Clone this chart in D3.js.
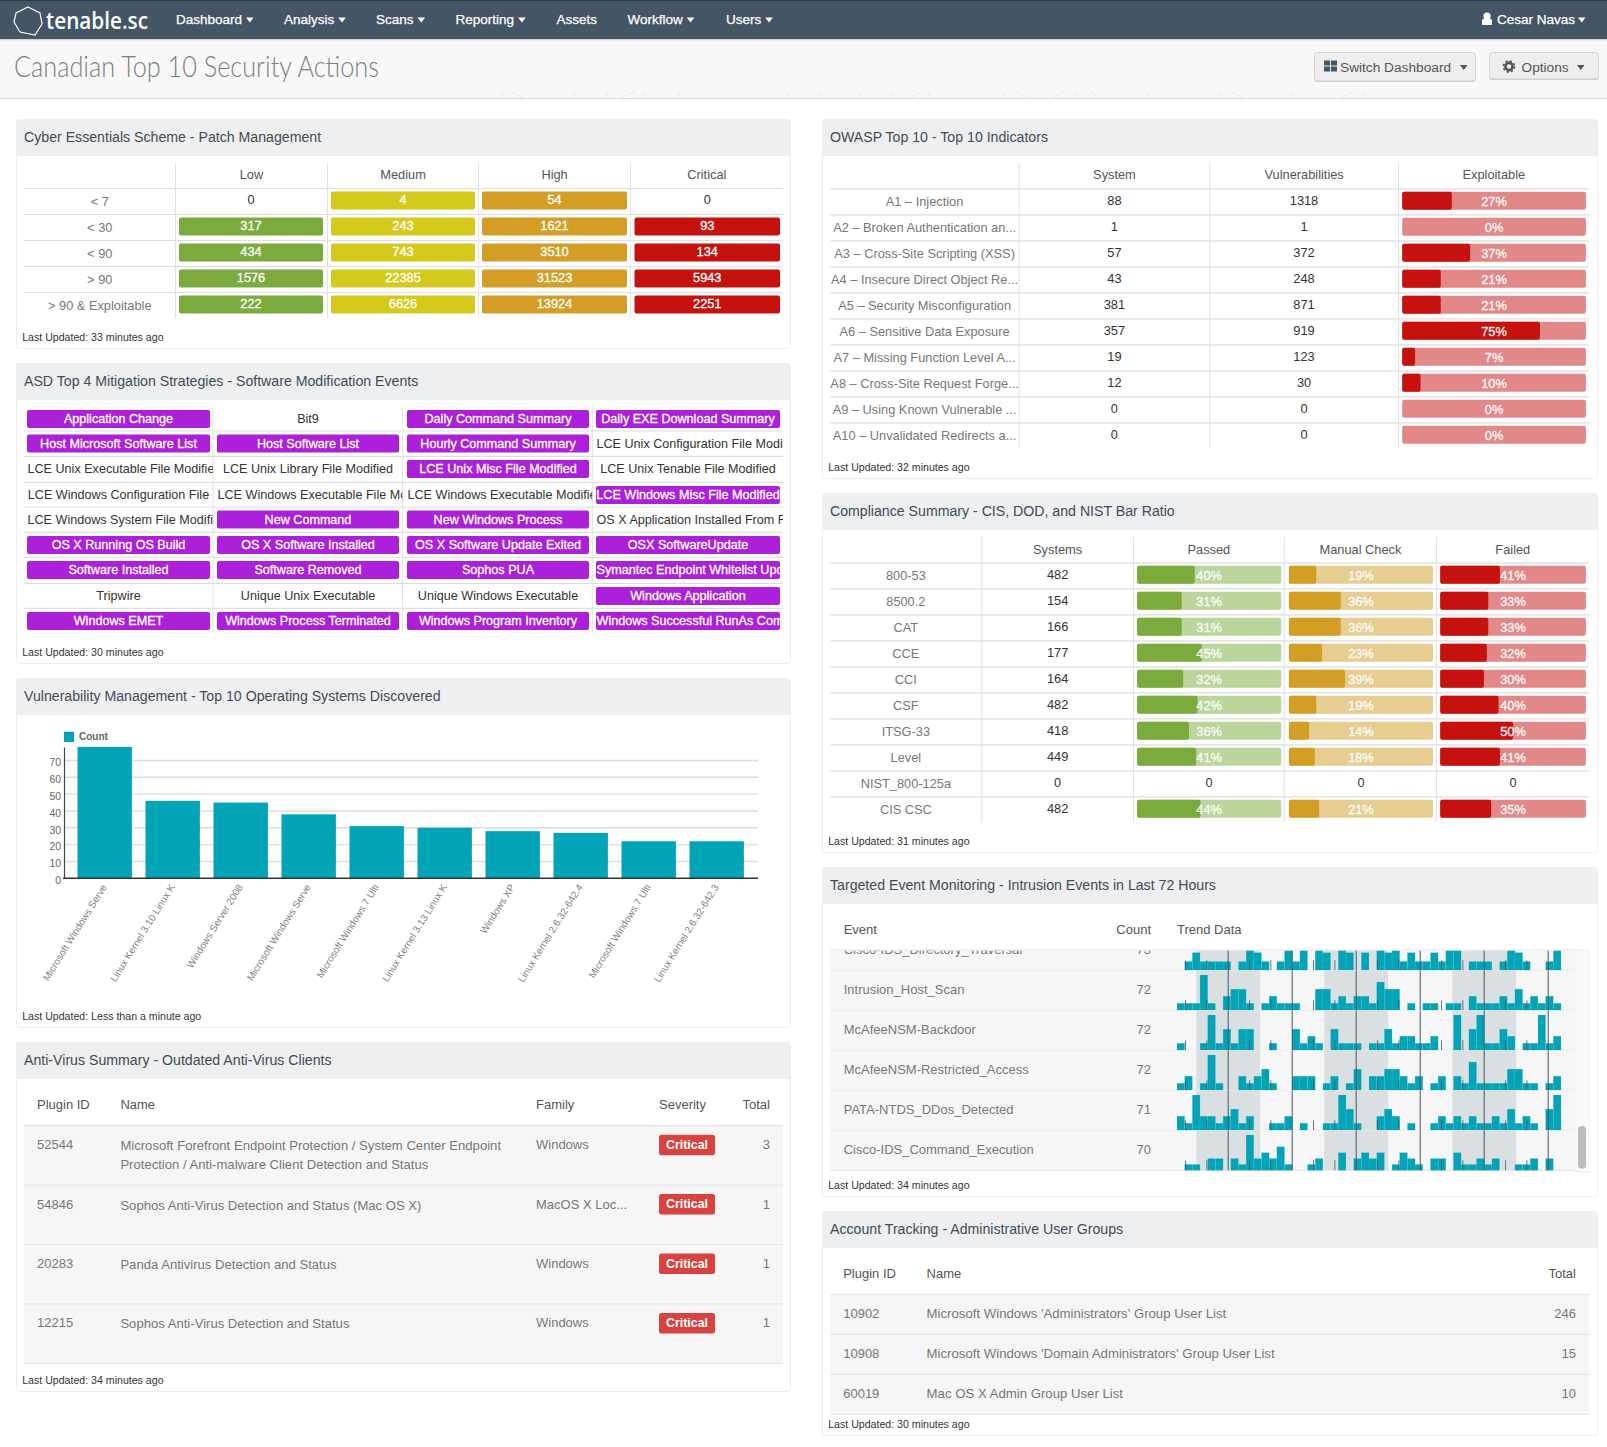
<!DOCTYPE html>
<html>
<head>
<meta charset="utf-8">
<title>Canadian Top 10 Security Actions</title>
<script src="https://cdnjs.cloudflare.com/ajax/libs/d3/7.8.5/d3.min.js"></script>
<style>
  html, body { margin: 0; padding: 0; background: #fff; }
  svg { display: block; }
  text { font-family: "Liberation Sans", Arial, sans-serif; }
</style>
</head>
<body>
<div id="page"></div>
<script>
// ---- chart values ----
var navItems = ["Dashboard", "Analysis", "Scans", "Reporting", "Assets", "Workflow", "Users"];
var navHasCaret = [1, 1, 1, 1, 0, 1, 1];

// Cyber Essentials
var patchRows = ["< 7", "< 30", "< 90", "> 90", "> 90 & Exploitable"];
var patchCols = ["Low", "Medium", "High", "Critical"];
var patchLow = [0, 317, 434, 1576, 222];
var patchMedium = [4, 243, 743, 22385, 6626];
var patchHigh = [54, 1621, 3510, 31523, 13924];
var patchCritical = [0, 93, 134, 5943, 2251];

// ASD grid, read row by row
var asdNames = [
  "Application Change", "Bit9", "Daily Command Summary", "Daily EXE Download Summary",
  "Host Microsoft Software List", "Host Software List", "Hourly Command Summary", "LCE Unix Configuration File Modi",
  "LCE Unix Executable File Modifie", "LCE Unix Library File Modified", "LCE Unix Misc File Modified", "LCE Unix Tenable File Modified",
  "LCE Windows Configuration File", "LCE Windows Executable File Mo", "LCE Windows Executable Modifie", "LCE Windows Misc File Modified",
  "LCE Windows System File Modifie", "New Command", "New Windows Process", "OS X Application Installed From F",
  "OS X Running OS Build", "OS X Software Installed", "OS X Software Update Exited", "OSX SoftwareUpdate",
  "Software Installed", "Software Removed", "Sophos PUA", "Symantec Endpoint Whitelist Upd",
  "Tripwire", "Unique Unix Executable", "Unique Windows Executable", "Windows Application",
  "Windows EMET", "Windows Process Terminated", "Windows Program Inventory", "Windows Successful RunAs Com"
];
var asdFlagged = [
  1, 0, 1, 1,
  1, 1, 1, 0,
  0, 0, 1, 0,
  0, 0, 0, 1,
  0, 1, 1, 0,
  1, 1, 1, 1,
  1, 1, 1, 1,
  0, 0, 0, 1,
  1, 1, 1, 1
];

// Top 10 operating systems
var osLabels = ["Microsoft Windows Serve", "Linux Kernel 3.10 Linux K", "Windows Server 2008", "Microsoft Windows Serve",
  "Microsoft Windows 7 Ulti", "Linux Kernel 3.13 Linux K", "Windows XP", "Linux Kernel 2.6.32-642.4",
  "Microsoft Windows 7 Ulti", "Linux Kernel 2.6.32-642.3"];
var osCounts = [78, 46, 45, 38, 31, 30, 28, 27, 22, 22];
var osTicks = [0, 10, 20, 30, 40, 50, 60, 70];

// Anti-virus
var avHeaders = ["Plugin ID", "Name", "Family", "Severity", "Total"];
var avIds = ["52544", "54846", "20283", "12215"];
var avNames = [
  ["Microsoft Forefront Endpoint Protection / System Center Endpoint", "Protection / Anti-malware Client Detection and Status"],
  ["Sophos Anti-Virus Detection and Status (Mac OS X)"],
  ["Panda Antivirus Detection and Status"],
  ["Sophos Anti-Virus Detection and Status"]
];
var avFamilies = ["Windows", "MacOS X Loc...", "Windows", "Windows"];
var avSeverity = ["Critical", "Critical", "Critical", "Critical"];
var avTotals = [3, 1, 1, 1];

// OWASP
var owaspRows = ["A1 \u2013 Injection", "A2 \u2013 Broken Authentication an...", "A3 \u2013 Cross-Site Scripting (XSS)",
  "A4 \u2013 Insecure Direct Object Re...", "A5 \u2013 Security Misconfiguration", "A6 \u2013 Sensitive Data Exposure",
  "A7 \u2013 Missing Function Level A...", "A8 \u2013 Cross-Site Request Forge...", "A9 \u2013 Using Known Vulnerable ...",
  "A10 \u2013 Unvalidated Redirects a..."];
var owaspCols = ["System", "Vulnerabilities", "Exploitable"];
var owaspSystems = [88, 1, 57, 43, 381, 357, 19, 12, 0, 0];
var owaspVulns = [1318, 1, 372, 248, 871, 919, 123, 30, 0, 0];
var owaspExploitable = [27, 0, 37, 21, 21, 75, 7, 10, 0, 0];

// Compliance
var compRows = ["800-53", "8500.2", "CAT", "CCE", "CCI", "CSF", "ITSG-33", "Level", "NIST_800-125a", "CIS CSC"];
var compCols = ["Systems", "Passed", "Manual Check", "Failed"];
var compSystems = [482, 154, 166, 177, 164, 482, 418, 449, 0, 482];
var compPassed = [40, 31, 31, 45, 32, 42, 36, 41, 0, 44];
var compManual = [19, 36, 36, 23, 39, 19, 14, 18, 0, 21];
var compFailed = [41, 33, 33, 32, 30, 40, 50, 41, 0, 35];

// Intrusion events, 50 bins per row over 72 hours
var eventNames = ["Cisco-IDS_Directory_Traversal", "Intrusion_Host_Scan", "McAfeeNSM-Backdoor", "McAfeeNSM-Restricted_Access",
  "PATA-NTDS_DDos_Detected", "Cisco-IDS_Command_Execution"];
var eventCounts = [73, 72, 72, 72, 71, 70];
var trendDirectory = [0,1,2,1,1,1,1,0,1,4,2,1,0,1,4,1,4,0,4,2,0,4,2,0,2,0,4,2,4,1,2,1,1,2,1,4,4,0,1,1,1,0,1,4,2,1,0,0,1,4];
var trendHostScan = [1,1,1,5,1,0,2,3,3,1,0,1,2,1,1,1,0,0,3,3,1,2,1,2,2,1,4,3,3,0,1,0,1,1,0,1,1,0,2,1,1,1,2,1,3,1,2,1,2,1];
var trendBackdoor = [1,0,0,1,5,1,3,1,3,3,0,0,1,0,0,3,1,2,1,0,3,1,1,1,0,1,1,3,1,2,2,1,1,2,0,0,5,0,3,5,1,1,3,2,0,1,1,5,1,2];
var trendRestricted = [1,2,0,1,5,1,0,0,2,1,2,3,1,0,0,2,2,2,0,1,2,0,1,3,0,2,2,3,3,2,1,2,0,1,2,0,2,1,4,1,1,1,1,3,3,1,1,0,1,2];
var trendDdos = [2,1,5,2,2,1,2,3,1,2,0,0,1,1,2,0,1,0,0,1,1,5,3,1,0,0,2,3,2,0,1,0,0,1,2,1,2,1,2,1,1,2,1,3,1,2,1,0,3,5];
var trendCommand = [0,1,1,0,2,2,0,2,1,6,2,3,2,4,1,0,0,1,2,0,0,3,0,2,3,2,3,0,1,3,2,1,0,2,2,0,3,1,1,2,1,2,0,0,1,1,2,0,2,0];
var nightBands = [[3.6, 15.6], [27.6, 39.6], [51.6, 63.6]];

// Account tracking
var acctHeaders = ["Plugin ID", "Name", "Total"];
var acctIds = ["10902", "10908", "60019"];
var acctNames = ["Microsoft Windows 'Administrators' Group User List", "Microsoft Windows 'Domain Administrators' Group User List", "Mac OS X Admin Group User List"];
var acctTotals = [246, 15, 10];

// ---- colours ----
var cGreen = "#7aab3c", cYellow = "#d5ca1c", cOrange = "#d39e26", cRed = "#c6120f", cPurple = "#ab20d8", cTeal = "#00a4b6";
var cGreenSoft = "#bcd59c", cOrangeSoft = "#e8cd91", cRedSoft = "#e28888";
var cLine = "#e2e2e2", cHead = "#555", cLabel = "#777", cNum = "#333";
var tableSize = 12.8;

var svg = d3.select("#page").append("svg")
  .attr("width", 1607)
  .attr("height", 1447)
  .attr("viewBox", "0 0 1607 1447");

// small text helper
function label(g, x, y, str, size, color, anchor) {
  return g.append("text")
    .attr("x", x)
    .attr("y", y)
    .attr("dy", "0.35em")
    .attr("font-size", size)
    .attr("fill", color)
    .attr("text-anchor", anchor || "start")
    .text(str);
}

function caret(g, x, y, w, color) {
  g.append("path")
    .attr("d", "M" + x + " " + y + "h" + w + "l" + (-w / 2) + " " + (w * 0.65) + "z")
    .attr("fill", color);
}

// ---- top bar ----
var nav = svg.append("g");
nav.append("rect").attr("width", 1607).attr("height", 40).attr("fill", "#445665");
nav.append("rect").attr("width", 1607).attr("height", 1).attr("fill", "#2f3d49");
nav.append("rect").attr("y", 39).attr("width", 1607).attr("height", 1.5).attr("fill", "#d0d4d8");
nav.append("path")
  .attr("d", "M28 7L40 13L42 24L35 35L20 32L14 22L16 13Z")
  .attr("fill", "none").attr("stroke", "#fff").attr("stroke-width", 1.2);
label(nav, 46, 20.5, "tenable.sc", 23.5, "#fff").attr("font-weight", 600)
  .style("font-family", "'Open Sans'").attr("textLength", 102).attr("lengthAdjust", "spacingAndGlyphs");

var navX = [176, 284, 376, 455.6, 556.6, 627.5, 726];
navItems.forEach(function(item, i) {
  var t = label(nav, navX[i], 19.5, item, 13.5, "#fff").attr("stroke", "#fff").attr("stroke-width", 0.25);
  if (navHasCaret[i]) {
    caret(nav, navX[i] + t.node().getComputedTextLength() + 4, 17.5, 7.5, "#fff");
  }
});
// user menu
nav.append("circle").attr("cx", 1487).attr("cy", 16).attr("r", 3.6).attr("fill", "#fff");
nav.append("path").attr("d", "M1482 25v-4q0-2.5 2.5-2.5h5q2.5 0 2.5 2.5v4z").attr("fill", "#fff");
label(nav, 1497, 19.5, "Cesar Navas", 13.5, "#fff").attr("stroke", "#fff").attr("stroke-width", 0.25);
caret(nav, 1578, 17.5, 7.5, "#fff");

// ---- sub header ----
var sub = svg.append("g");
sub.append("rect").attr("y", 40.5).attr("width", 1607).attr("height", 58).attr("fill", "#f8f8f8");
sub.append("rect").attr("y", 98).attr("width", 1607).attr("height", 1).attr("fill", "#dcdcdc");
// faint pattern that peeks out of the header bottom
[[502, 502], [574, 574], [607, 607], [645, 645], [679, 679], [788, 788], [821, 821], [860, 860], [893, 893],
 [929, 929], [1004, 1004], [1075, 1075], [1148, 1148], [1219, 1219], [1291, 1291], [1363, 1363]].forEach(function(p) {
  sub.append("line").attr("x1", p[0]).attr("x2", p[1]).attr("y1", 92).attr("y2", 98).attr("stroke", "#e9e9e9");
});
[[511, 524, 92, 98], [621, 635, 98, 92], [910, 922, 98, 92], [1016, 1029, 92, 98], [1052, 1063, 98, 92],
 [1090, 1101, 92, 98], [1232, 1243, 92, 98], [1340, 1352, 98, 92]].forEach(function(p) {
  sub.append("line").attr("x1", p[0]).attr("x2", p[1]).attr("y1", p[2]).attr("y2", p[3]).attr("stroke", "#e9e9e9");
});
label(sub, 14, 66.5, "Canadian Top 10 Security Actions", 29, "#7b7f83")
  .style("font-family", "Lato").attr("font-weight", 300)
  .attr("textLength", 365).attr("lengthAdjust", "spacingAndGlyphs");

function button(x, w, h, text, textX, caretX) {
  sub.append("rect").attr("x", x + 0.5).attr("y", 52.5).attr("width", w).attr("height", h).attr("rx", 3)
    .attr("fill", "#eeeeee").attr("stroke", "#d4d4d4");
  sub.append("rect").attr("x", x + 1).attr("y", 52 + h - 0.5).attr("width", w - 1).attr("height", 1.5).attr("fill", "#cfcfcf");
  label(sub, textX, 67, text, 13.7, "#555");
  caret(sub, caretX, 65, 7.5, "#555");
}
button(1314, 161, 29, "Switch Dashboard", 1340, 1460);
button(1489, 109, 27, "Options", 1521.5, 1577);
// grid icon
d3.range(4).forEach(function(i) {
  sub.append("rect").attr("x", 1324 + (i % 2) * 7).attr("y", 60.5 + Math.floor(i / 2) * 6)
    .attr("width", 6).attr("height", 5).attr("fill", "#445665");
});
// gear icon
sub.append("circle").attr("cx", 1509).attr("cy", 66.5).attr("r", 3.6)
  .attr("fill", "none").attr("stroke", "#555").attr("stroke-width", 2.6);
sub.append("circle").attr("cx", 1509).attr("cy", 66.5).attr("r", 5.6)
  .attr("fill", "none").attr("stroke", "#555").attr("stroke-width", 1.6).attr("stroke-dasharray", "2.2 2.2");

// ---- panel frame ----
function panel(x0, x1, top, headBottom, bottom, title, updated, updatedY) {
  var g = svg.append("g");
  g.append("rect").attr("x", x0 + 0.5).attr("y", top + 0.5).attr("width", x1 - x0).attr("height", bottom - top).attr("rx", 3)
    .attr("fill", "#fff").attr("stroke", "#eeeeee");
  g.append("path")
    .attr("d", "M" + x0 + " " + headBottom + "V" + (top + 3) + "q0 -3 3 -3H" + (x1 - 3) + "q3 0 3 3V" + headBottom + "z")
    .attr("fill", "#eeeff1");
  label(g, x0 + 8, (top + headBottom) / 2 - 0.5, title, 14.15, "#3f4c58");
  label(g, x0 + 6.2, updatedY, "Last Updated: " + updated, 10.6, "#333");
  return g;
}

// Bordered table with a header row. Returns the row scale.
function gridTable(g, rows, cols, edges, headTop, top, bottom) {
  var y = d3.scaleBand().domain(d3.range(rows.length)).range([top, bottom]);
  // horizontal rules
  g.selectAll(null).data(d3.range(rows.length)).enter().append("line")
    .attr("x1", edges[0]).attr("x2", edges[edges.length - 1])
    .attr("y1", function(d) { return y(d) + 0.5; }).attr("y2", function(d) { return y(d) + 0.5; })
    .attr("stroke", "#dedede").attr("stroke-width", 1.2);
  // vertical rules
  g.selectAll(null).data(edges.slice(1, -1)).enter().append("line")
    .attr("x1", function(d) { return d; }).attr("x2", function(d) { return d; })
    .attr("y1", headTop).attr("y2", bottom)
    .attr("stroke", cLine);
  // head
  cols.forEach(function(c, i) {
    label(g, (edges[i + 1] + edges[i + 2]) / 2, (headTop + top) / 2 - 0.5, c, tableSize, cHead, "middle");
  });
  // row names
  rows.forEach(function(r, i) {
    label(g, (edges[0] + edges[1]) / 2, y(i) + y.bandwidth() / 2 + 0.6, r, tableSize, cLabel, "middle");
  });
  return y;
}

// solid count cell (no bar when the value is 0)
function countCell(g, x0, x1, rowTop, val, color) {
  if (val > 0) {
    g.append("rect").attr("x", x0).attr("y", rowTop + 3.4).attr("width", x1 - x0).attr("height", 18).attr("rx", 2).attr("fill", color);
    label(g, (x0 + x1) / 2, rowTop + 12, val, tableSize, "#fff", "middle").attr("stroke", "#fff").attr("stroke-width", 0.3);
  } else {
    label(g, (x0 + x1) / 2, rowTop + 12, val, tableSize, cNum, "middle");
  }
}

// ratio cell: pale track, solid part sized with a linear scale
function ratioCell(g, x0, x1, rowTop, pct, color, soft) {
  var w = d3.scaleLinear().domain([0, 100]).range([x0, x1]);
  g.append("rect").attr("x", x0).attr("y", rowTop + 3.4).attr("width", x1 - x0).attr("height", 18).attr("rx", 2).attr("fill", soft);
  if (pct > 0) {
    g.append("rect").attr("x", x0).attr("y", rowTop + 3.4).attr("width", w(pct) - x0).attr("height", 18).attr("rx", 2).attr("fill", color);
  }
  label(g, (x0 + x1) / 2, rowTop + 13.2, pct + "%", tableSize, "#fff", "middle")
    .attr("stroke", "#fff").attr("stroke-width", 0.35).attr("opacity", 0.92);
}

// ---- Cyber Essentials ----
var p1 = panel(16, 790, 119, 156, 348, "Cyber Essentials Scheme - Patch Management", "33 minutes ago", 337);
var patchEdges = [24, 175.5, 327.5, 478.6, 630.6, 783];
var patchY = gridTable(p1, patchRows, patchCols, patchEdges, 163, 188, 318);
var patchBars = [[179, 323], [331, 475], [482, 627], [634.5, 780]];
[[patchLow, cGreen], [patchMedium, cYellow], [patchHigh, cOrange], [patchCritical, cRed]].forEach(function(s, c) {
  s[0].forEach(function(v, r) {
    countCell(p1, patchBars[c][0], patchBars[c][1], patchY(r), v, s[1]);
  });
});

// ---- ASD grid ----
var p2 = panel(16, 790, 363, 400, 663, "ASD Top 4 Mitigation Strategies - Software Modification Events", "30 minutes ago", 652.5);
var asdEdges = [24, 213, 402.5, 592.3, 783];
var asdPills = [[27, 210], [217, 399], [407, 589], [596, 780]];
var asdTops = [406.5, 431, 456.3, 482.3, 507, 532.3, 557.3, 583.3, 608.3, 632.7];
asdTops.slice(1, 9).forEach(function(y) {
  p2.append("line").attr("x1", 24).attr("x2", 783).attr("y1", y).attr("y2", y).attr("stroke", "#dedede").attr("stroke-width", 1.2);
});
asdEdges.slice(1, -1).forEach(function(e) {
  p2.append("line").attr("x1", e).attr("x2", e).attr("y1", 406.5).attr("y2", 632.7).attr("stroke", cLine);
});
var defs = svg.append("defs");
asdNames.forEach(function(name, i) {
  var col = i % 4, row = Math.floor(i / 4), top = asdTops[row], flag = asdFlagged[i];
  var px = asdPills[col];
  if (flag) {
    p2.append("rect").attr("x", px[0]).attr("y", top + 3.6).attr("width", px[1] - px[0]).attr("height", 18).attr("rx", 2).attr("fill", cPurple);
  }
  var clipRight = flag ? px[1] : asdEdges[col + 1];
  defs.append("clipPath").attr("id", "asd" + i).append("rect")
    .attr("x", px[0]).attr("y", top).attr("width", clipRight - px[0]).attr("height", 26);
  var t = label(p2, (px[0] + px[1]) / 2, top + 12.2, name, 12.6, flag ? "#fff" : "#333", "middle")
    .attr("clip-path", "url(#asd" + i + ")");
  if (flag) t.attr("stroke", "#fff").attr("stroke-width", 0.3);
  // long names do not centre: the cell cuts them off at its right edge
  if (t.node().getComputedTextLength() > px[1] - px[0]) {
    t.attr("text-anchor", "start").attr("x", px[0] + 0.5);
  }
});

// ---- Top 10 operating systems ----
var p3 = panel(16, 790, 678.5, 715, 1027, "Vulnerability Management - Top 10 Operating Systems Discovered", "Less than a minute ago", 1016.7);
var osX = d3.scaleBand().domain(d3.range(osCounts.length)).range([70.7, 750.7]).paddingInner(0.2).paddingOuter(0.1);
var osY = d3.scaleLinear().domain([0, 78]).range([878.3, 747]);
p3.append("rect").attr("x", 64).attr("y", 731.7).attr("width", 10).attr("height", 10.3).attr("fill", cTeal);
label(p3, 79, 736.8, "Count", 10, "#666").attr("font-weight", "bold");
// grid lines first, bars over them
p3.selectAll(null).data(osTicks.slice(1)).enter().append("line")
  .attr("x1", 64).attr("x2", 758)
  .attr("y1", function(d) { return osY(d); }).attr("y2", function(d) { return osY(d); })
  .attr("stroke", "#dcdcdc").attr("stroke-width", 1.4);
p3.selectAll(null).data(osCounts).enter().append("rect")
  .attr("x", function(d, i) { return osX(i); })
  .attr("y", function(d) { return osY(d); })
  .attr("width", osX.bandwidth())
  .attr("height", function(d) { return osY(0) - osY(d); })
  .attr("fill", cTeal);
var yAxis = p3.append("g").attr("transform", "translate(64,0)")
  .call(d3.axisLeft(osY).tickValues(osTicks).tickSize(0).tickPadding(3));
yAxis.select(".domain").attr("stroke", "#444").attr("stroke-width", 1.2);
yAxis.selectAll("text").attr("font-size", 10.4).attr("fill", "#666").attr("dy", "0.5em").style("font-family", "'Liberation Sans'");
p3.append("line").attr("x1", 63).attr("x2", 758).attr("y1", osY(0)).attr("y2", osY(0)).attr("stroke", "#333").attr("stroke-width", 1.6);
defs.append("clipPath").attr("id", "osClip").append("rect").attr("x", 20).attr("y", 884).attr("width", 740).attr("height", 120);
var osLabelG = p3.append("g").attr("clip-path", "url(#osClip)");
osLabelG.selectAll(null).data(osLabels).enter().append("text")
  .attr("transform", function(d, i) { return "translate(" + (osX(i) + osX.bandwidth() / 2 + 2.5) + ",887) rotate(-58)"; })
  .attr("text-anchor", "end")
  .attr("font-size", 9.9)
  .attr("fill", "#808080")
  .text(function(d) { return d; });

// ---- Anti-virus table ----
var p4 = panel(16, 790, 1042, 1079, 1391, "Anti-Virus Summary - Outdated Anti-Virus Clients", "34 minutes ago", 1380.3);
var avY = d3.scaleBand().domain(avIds).range([1125.7, 1363.3]);
var avHeadX = [37, 120.4, 536, 659];
avHeaders.forEach(function(h, i) {
  if (i < 4) label(p4, avHeadX[i], 1104.7, h, 13, cHead);
  else label(p4, 770, 1104.7, h, 13, cHead, "end");
});
avIds.forEach(function(id, i) {
  var top = avY(id), mid = top + 19;
  p4.append("rect").attr("x", 24).attr("y", top).attr("width", 759).attr("height", avY.bandwidth()).attr("fill", "#f6f6f6");
  p4.append("line").attr("x1", 24).attr("x2", 783).attr("y1", top).attr("y2", top).attr("stroke", "#e6e6e6").attr("stroke-width", 1.2);
  label(p4, 37, mid, id, 13, cLabel);
  avNames[i].forEach(function(line, j) {
    label(p4, 120.4, mid + 1 + j * 19, line, 13.1, cLabel);
  });
  label(p4, 536, mid, avFamilies[i], 13, cLabel);
  p4.append("rect").attr("x", 659).attr("y", mid - 10).attr("width", 56).attr("height", 20.5).attr("rx", 2.5).attr("fill", "#d9433f");
  label(p4, 687, mid, avSeverity[i], 12.4, "#fff", "middle").attr("font-weight", "bold");
  label(p4, 770, mid, avTotals[i], 13, cLabel, "end");
});
p4.append("line").attr("x1", 24).attr("x2", 783).attr("y1", 1363.3).attr("y2", 1363.3).attr("stroke", "#e6e6e6").attr("stroke-width", 1.2);

// ---- OWASP ----
var r1 = panel(822, 1597, 119, 156, 478, "OWASP Top 10 - Top 10 Indicators", "32 minutes ago", 467.2);
var owaspEdges = [830, 1019.2, 1209.7, 1398.6, 1589];
var owaspY = d3.scaleBand().domain(d3.range(owaspRows.length)).range([188.3, 448.3]);
d3.range(owaspRows.length).forEach(function(r) {
  r1.append("line").attr("x1", 830).attr("x2", 1589).attr("y1", owaspY(r) + 0.5).attr("y2", owaspY(r) + 0.5).attr("stroke", "#dedede").attr("stroke-width", 1.2);
  label(r1, 924.6, owaspY(r) + 13.6, owaspRows[r], tableSize, cLabel, "middle");
  label(r1, 1114.4, owaspY(r) + 12, owaspSystems[r], tableSize, cNum, "middle");
  label(r1, 1304, owaspY(r) + 12, owaspVulns[r], tableSize, cNum, "middle");
  ratioCell(r1, 1402.2, 1585.9, owaspY(r), owaspExploitable[r], cRed, cRedSoft);
});
owaspEdges.slice(1, -1).forEach(function(e) {
  r1.append("line").attr("x1", e).attr("x2", e).attr("y1", 163).attr("y2", 448.3).attr("stroke", cLine);
});
owaspCols.forEach(function(c, i) {
  label(r1, (owaspEdges[i + 1] + owaspEdges[i + 2]) / 2, 175, c, tableSize, cHead, "middle");
});

// ---- Compliance ----
var r2 = panel(822, 1597, 493, 530, 852, "Compliance Summary - CIS, DOD, and NIST Bar Ratio", "31 minutes ago", 841.3);
var compEdges = [830, 981.7, 1133.5, 1284.3, 1436.6, 1589];
var compY = gridTable(r2, compRows, compCols, compEdges, 537, 562.3, 822.3);
var compBars = [[1137.1, 1281.2], [1288.9, 1433], [1440.2, 1585.9]];
compRows.forEach(function(name, r) {
  label(r2, (981.7 + 1133.5) / 2, compY(r) + 12, compSystems[r], tableSize, cNum, "middle");
  [[compPassed, cGreen, cGreenSoft], [compManual, cOrange, cOrangeSoft], [compFailed, cRed, cRedSoft]].forEach(function(s, c) {
    if (compSystems[r] > 0) {
      ratioCell(r2, compBars[c][0], compBars[c][1], compY(r), s[0][r], s[1], s[2]);
    } else {
      label(r2, (compBars[c][0] + compBars[c][1]) / 2, compY(r) + 12, s[0][r], tableSize, cNum, "middle");
    }
  });
});

// ---- Intrusion events ----
var r3 = panel(822, 1597, 867, 904, 1196, "Targeted Event Monitoring - Intrusion Events in Last 72 Hours", "34 minutes ago", 1185);
label(r3, 843.7, 929.3, "Event", 13, cHead);
label(r3, 1151, 929.3, "Count", 13, cHead, "end");
label(r3, 1177, 929.3, "Trend Data", 13, cHead);
r3.append("rect").attr("x", 1574.3).attr("y", 950).attr("width", 14.7).attr("height", 222).attr("fill", "#fafafa").attr("stroke", "#efefef");
r3.append("rect").attr("x", 1578).attr("y", 1126).attr("width", 8).attr("height", 42.7).attr("rx", 4).attr("fill", "#bdbdbd");

defs.append("clipPath").attr("id", "eventClip").append("rect").attr("x", 830).attr("y", 950.5).attr("width", 744.3).attr("height", 221);
var events = r3.append("g").attr("clip-path", "url(#eventClip)");
var eventY = d3.scaleBand().domain(d3.range(eventNames.length)).range([930.3, 1170.3]);
var hourX = d3.scaleLinear().domain([0, 72]).range([1177, 1561]);
var binX = d3.scaleBand().domain(d3.range(50)).range([1177, 1561]);
var hourMarks = d3.range(1.6, 72, 4);
[trendDirectory, trendHostScan, trendBackdoor, trendRestricted, trendDdos, trendCommand].forEach(function(series, r) {
  var top = eventY(r), h = eventY.bandwidth(), base = top + h;
  var g = events.append("g");
  g.append("rect").attr("x", 830).attr("y", top).attr("width", 744.3).attr("height", h).attr("fill", "#f7f7f7");
  g.selectAll(null).data(nightBands).enter().append("rect")
    .attr("x", function(d) { return hourX(d[0]); })
    .attr("y", top)
    .attr("width", function(d) { return hourX(d[1]) - hourX(d[0]); })
    .attr("height", h)
    .attr("fill", "#dadfe2");
  g.append("line").attr("x1", 830).attr("x2", 1574.3).attr("y1", base).attr("y2", base).attr("stroke", "#e6e6e6").attr("stroke-width", 1.2);
  var barY = d3.scaleLinear().domain([0, d3.max(series)]).range([base, base - 35.3]);
  g.selectAll(null).data(series).enter().append("rect")
    .attr("x", function(d, k) { return binX(k); })
    .attr("y", function(d) { return barY(d); })
    .attr("width", binX.bandwidth())
    .attr("height", function(d) { return base - barY(d); })
    .attr("fill", cTeal)
    .attr("stroke", "#7fd0da")
    .attr("stroke-opacity", function(d) { return d > 0 ? 0.3 : 0; })
    .attr("stroke-width", 0.5);
  hourMarks.forEach(function(m, i) {
    var long = i % 3 == 2;
    g.append("line")
      .attr("x1", hourX(m)).attr("x2", hourX(m))
      .attr("y1", long ? top : base - 10).attr("y2", base)
      .attr("stroke", "#445665").attr("stroke-width", long ? 1 : 0.8);
  });
  label(g, 843.7, top + 19.3, eventNames[r], 13, cLabel);
  label(g, 1151, top + 19.3, eventCounts[r], 13, cLabel, "end");
});
r3.append("line").attr("x1", 830).attr("x2", 1574.3).attr("y1", 950).attr("y2", 950).attr("stroke", "#e6e6e6");

// ---- Account tracking ----
var r4 = panel(822, 1597, 1211, 1247.7, 1435, "Account Tracking - Administrative User Groups", "30 minutes ago", 1424.3);
var acctY = d3.scaleBand().domain(acctIds).range([1294.3, 1414.3]);
label(r4, 843.2, 1273.3, acctHeaders[0], 13, cHead);
label(r4, 926.6, 1273.3, acctHeaders[1], 13, cHead);
label(r4, 1576, 1273.3, acctHeaders[2], 13, cHead, "end");
acctIds.forEach(function(id, i) {
  var top = acctY(id), mid = top + 19;
  r4.append("rect").attr("x", 830).attr("y", top).attr("width", 759).attr("height", acctY.bandwidth()).attr("fill", "#f6f6f6");
  r4.append("line").attr("x1", 830).attr("x2", 1589).attr("y1", top).attr("y2", top).attr("stroke", "#e6e6e6").attr("stroke-width", 1.2);
  label(r4, 843.2, mid, id, 13, cLabel);
  label(r4, 926.6, mid, acctNames[i], 13.2, cLabel);
  label(r4, 1576, mid, acctTotals[i], 13, cLabel, "end");
});
r4.append("line").attr("x1", 830).attr("x2", 1589).attr("y1", 1414.3).attr("y2", 1414.3).attr("stroke", "#e6e6e6").attr("stroke-width", 1.2);
</script>
</body>
</html>
